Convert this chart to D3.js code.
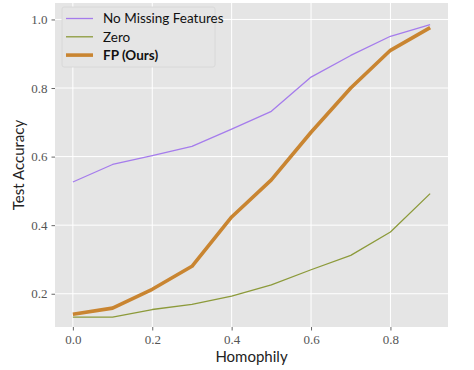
<!DOCTYPE html>
<html>
<head>
<meta charset="utf-8">
<script src="https://cdn.jsdelivr.net/npm/d3@7"></script>
<style>
  body { margin: 0; background: #fff; }
</style>
</head>
<body>
<svg id="chart" width="474" height="370"></svg>
<script>
var homophily = [0.0, 0.1, 0.2, 0.3, 0.4, 0.5, 0.6, 0.7, 0.8, 0.9];
var noMissing = [0.526, 0.577, 0.603, 0.630, 0.680, 0.732, 0.832, 0.895, 0.951, 0.985];
var zero      = [0.132, 0.132, 0.154, 0.169, 0.193, 0.226, 0.270, 0.312, 0.380, 0.492];
var fp        = [0.140, 0.158, 0.213, 0.280, 0.424, 0.532, 0.671, 0.800, 0.910, 0.976];
var xTicks = [0.0, 0.2, 0.4, 0.6, 0.8];
var yTicks = [0.2, 0.4, 0.6, 0.8, 1.0];

var series = [
  {name: 'No Missing Features', values: noMissing, color: '#a57cec', width: 1.3, bold: false},
  {name: 'Zero', values: zero, color: '#8c9a3a', width: 1.3, bold: false},
  {name: 'FP (Ours)', values: fp, color: '#c98531', width: 3.6, bold: true}
];

var margin = {top: 3, right: 26, bottom: 43, left: 55},
    width = 474 - margin.left - margin.right,
    height = 370 - margin.top - margin.bottom;

var sans = 'Lato, "Open Sans", sans-serif';
var serif = '"Liberation Serif", "DejaVu Serif", serif';

var svg = d3.select('#chart');
var g = svg.append('g').attr('transform', 'translate(' + margin.left + ',' + margin.top + ')');

var x = d3.scaleLinear().domain([-0.045, 0.945]).range([0, width]);
var y = d3.scaleLinear().domain([0.103, 1.048]).range([height, 0]);

g.append('rect')
  .attr('width', width)
  .attr('height', height)
  .attr('fill', '#e5e5e5');

// grid
g.selectAll('.gx')
  .data(xTicks)
  .join('line')
  .attr('x1', d => x(d)).attr('x2', d => x(d))
  .attr('y1', 0).attr('y2', height)
  .attr('stroke', '#fff').attr('stroke-width', 1);
g.selectAll('.gy')
  .data(yTicks)
  .join('line')
  .attr('y1', d => y(d)).attr('y2', d => y(d))
  .attr('x1', 0).attr('x2', width)
  .attr('stroke', '#fff').attr('stroke-width', 1);

var xAxis = g.append('g')
  .attr('transform', 'translate(0,' + height + ')')
  .call(d3.axisBottom(x).tickValues(xTicks).tickFormat(d3.format('.1f')).tickSize(3.5).tickPadding(4));
var yAxis = g.append('g')
  .call(d3.axisLeft(y).tickValues(yTicks).tickFormat(d3.format('.1f')).tickSize(3.5).tickPadding(4));
[xAxis, yAxis].forEach(function(a){
  a.select('.domain').remove();
  a.selectAll('.tick line').attr('stroke', '#666');
  a.selectAll('.tick text')
    .attr('fill', '#555')
    .attr('font-family', serif)
    .attr('font-size', 13);
});

var line = d3.line()
  .x((d, i) => x(homophily[i]))
  .y(d => y(d));

g.selectAll('.series')
  .data(series)
  .join('path')
  .attr('class', 'series')
  .attr('d', d => line(d.values))
  .attr('fill', 'none')
  .attr('stroke', d => d.color)
  .attr('stroke-width', d => d.width)
  .attr('stroke-linejoin', 'round');

// axis labels
svg.append('text')
  .attr('x', margin.left + width / 2)
  .attr('y', 362)
  .attr('text-anchor', 'middle')
  .attr('font-family', sans)
  .attr('font-size', 15)
  .attr('fill', '#222')
  .text('Homophily');
svg.append('text')
  .attr('transform', 'translate(24,' + (margin.top + height / 2) + ') rotate(-90)')
  .attr('text-anchor', 'middle')
  .attr('font-family', sans)
  .attr('font-size', 15)
  .attr('fill', '#222')
  .text('Test Accuracy');

// legend
var legend = svg.append('g').attr('transform', 'translate(62,7)');
legend.append('rect')
  .attr('width', 153).attr('height', 60)
  .attr('rx', 2)
  .attr('fill', '#e5e5e5')
  .attr('stroke', '#d6d6d6')
  .attr('stroke-width', 0.8);
var rows = legend.selectAll('.lg')
  .data(series)
  .join('g')
  .attr('transform', (d, i) => 'translate(0,' + (11.5 + i * 18.3) + ')');
rows.append('line')
  .attr('x1', 4).attr('x2', 31)
  .attr('stroke', d => d.color)
  .attr('stroke-width', d => d.width);
rows.append('text')
  .attr('x', 41)
  .attr('dy', '0.35em')
  .attr('font-family', sans)
  .attr('font-size', 13.5)
  .attr('font-weight', d => d.bold ? 'bold' : 'normal')
  .attr('fill', '#111')
  .text(d => d.name);
</script>
</body>
</html>
